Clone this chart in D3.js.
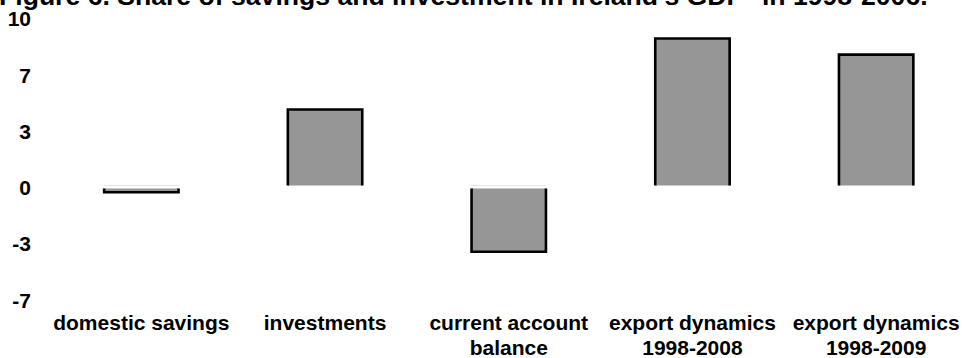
<!DOCTYPE html>
<html>
<head>
<meta charset="utf-8">
<script src="https://cdn.jsdelivr.net/npm/d3@7"></script>
<style>
  html, body { margin: 0; padding: 0; background: #fff; }
  svg { display: block; font-family: "Liberation Sans", Arial, sans-serif; font-weight: bold; }
</style>
</head>
<body>
<svg id="chart" width="962" height="358"></svg>
<script>
// Share of savings and investment in Ireland's GDP, percentage points
const titleText = "Figure 6. Share of savings and investment in Ireland's GDP* in 1998-2006.";
const categories = [
  ["domestic savings"],
  ["investments"],
  ["current account", "balance"],
  ["export dynamics", "1998-2008"],
  ["export dynamics", "1998-2009"]
];
const values = [-0.4, 4.5, -3.92, 8.7, 7.75];
const tickValues = [10, 6.67, 3.33, 0, -3.33, -6.67];

const svg = d3.select("#chart");

const x = d3.scaleBand()
  .domain(d3.range(categories.length))
  .range([49.5, 968])
  .padding(0);
const barW = x.bandwidth() * 0.405;

const y = d3.scaleLinear()
  .domain([-20 / 3, 10])
  .range([298.1, 16.6]);
const y0 = y(0);

// title (partly above the top edge)
svg.append("text")
  .attr("x", -1)
  .attr("y", 5)
  .attr("font-size", 26.6)
  .attr("fill", "#000")
  .text(titleText);

// value axis: labels only, no line or tick marks
const fmt = d3.formatLocale({ decimal: ".", thousands: ",", grouping: [3], currency: ["", ""], minus: "-" }).format(".0f");
const yAxis = d3.axisLeft(y)
  .tickValues(tickValues)
  .tickFormat(fmt)
  .tickSize(0)
  .tickPadding(0);
const ga = svg.append("g")
  .attr("transform", "translate(31,2.5)")
  .call(yAxis);
ga.select(".domain").remove();
ga.selectAll("text")
  .attr("font-size", 21)
  .attr("font-family", "inherit")
  .attr("fill", "#000");

// bars
const bars = svg.append("g");
values.forEach((v, i) => {
  const cx = x(i) + x.bandwidth() / 2;
  const x0 = cx - barW / 2, x1 = cx + barW / 2;
  const yv = y(v);
  if (v >= 0) {
    bars.append("rect")
      .attr("x", x0).attr("y", yv)
      .attr("width", barW).attr("height", y0 - yv)
      .attr("fill", "#969696");
    bars.append("path")
      .attr("d", `M${x0},${y0}V${yv}H${x1}V${y0}`)
      .attr("fill", "none").attr("stroke", "#000").attr("stroke-width", 2.6);
  } else {
    const top = y0 + 3;
    bars.append("line")
      .attr("x1", x0).attr("x2", x1)
      .attr("y1", y0).attr("y2", y0)
      .attr("stroke", "#e4e4e4").attr("stroke-width", 1);
    bars.append("rect")
      .attr("x", x0).attr("y", top)
      .attr("width", barW).attr("height", Math.max(0, yv - top))
      .attr("fill", "#969696");
    bars.append("path")
      .attr("d", `M${x0},${top}V${yv}H${x1}V${top}`)
      .attr("fill", "none").attr("stroke", "#000").attr("stroke-width", 2.6);
  }
});

// category labels
const gl = svg.append("g")
  .attr("font-size", 21)
  .attr("text-anchor", "middle")
  .attr("fill", "#000");
categories.forEach((lines, i) => {
  const t = gl.append("text")
    .attr("x", x(i) + x.bandwidth() / 2)
    .attr("y", 330);
  lines.forEach((s, k) => {
    t.append("tspan")
      .attr("x", x(i) + x.bandwidth() / 2)
      .attr("dy", k === 0 ? 0 : 25)
      .text(s);
  });
});
</script>
</body>
</html>
